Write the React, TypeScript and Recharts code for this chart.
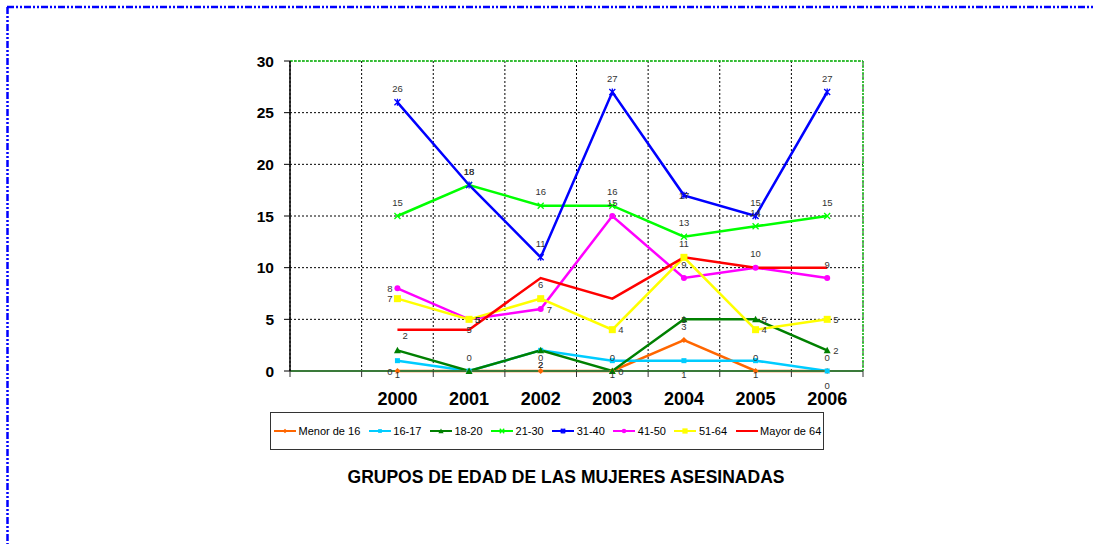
import React from "react";
import {
  CartesianGrid,
  LabelList,
  Line,
  LineChart,
  ReferenceLine,
  XAxis,
  YAxis,
} from "recharts";

// yearly counts per age group
const years = ["2000", "2001", "2002", "2003", "2004", "2005", "2006"];
const menorDe16 = [0, 0, 0, 0, 3, 0, 0];
const edad16a17 = [1, 0, 2, 1, 1, 1, 0];
const edad18a20 = [2, 0, 2, 0, 5, 5, 2];
const edad21a30 = [15, 18, 16, 16, 13, 14, 15];
const edad31a40 = [26, 18, 11, 27, 17, 15, 27];
const edad41a50 = [8, 5, 6, 15, 9, 10, 9];
const edad51a64 = [7, 5, 7, 4, 11, 4, 5];
const mayorDe64 = [4, 4, 9, 7, 11, 10, 10];
const yTicks = [0, 5, 10, 15, 20, 25, 30];
const xBounds = [0, 1, 2, 3, 4, 5, 6, 7, 8];

// data labels as printed in the original sheet (a few don't match the points)
const lblMenor = ["0", "0", "0", "0", "3", "0", "0"];
const lbl16a17 = ["1", null, "2", "1", "1", "1", "0"];
const lbl18a20 = [null, null, "2", "0", "5", "5", "2"];
const lbl21a30 = ["15", "18", "16", "16", "13", "14", "15"];
const lbl31a40 = ["26", "18", "11", "27", "17", "15", "27"];
const lbl41a50 = ["8", "5", "7", "15", "9", "10", "9"];
const lbl51a64 = ["7", "5", "6", "4", null, "4", "5"];
const lblMayor = ["2", "5", null, null, "11", null, null];

const FONT = "'Liberation Sans', Arial, sans-serif";
const PLOT_LEFT = 290;
const PLOT_RIGHT = 863;
const PLOT_TOP = 61;
const PLOT_BOTTOM = 371;
const HALF_BAND = (PLOT_RIGHT - PLOT_LEFT) / 8 / 2;

type Place = "t" | "b" | "l" | "r" | "c" | "br";
type MarkerKind = "diamond" | "smallSquare" | "triangle" | "x" | "star" | "circle" | "square" | "none";

type Series = {
  key: string;
  name: string;
  color: string;
  marker: MarkerKind;
  values: number[];
  labels: (string | null)[];
  place: Place[];
};

const series: Series[] = [
  { key: "menor", name: "Menor de 16", color: "#FF6600", marker: "diamond", values: menorDe16, labels: lblMenor, place: ["l", "t", "t", "t", "t", "t", "t"] },
  { key: "e1617", name: "16-17", color: "#00CCFF", marker: "smallSquare", values: edad16a17, labels: lbl16a17, place: ["b", "b", "b", "b", "b", "b", "b"] },
  { key: "e1820", name: "18-20", color: "#008000", marker: "triangle", values: edad18a20, labels: lbl18a20, place: ["r", "r", "b", "r", "c", "r", "r"] },
  { key: "e2130", name: "21-30", color: "#00FF00", marker: "x", values: edad21a30, labels: lbl21a30, place: ["t", "t", "t", "t", "t", "t", "t"] },
  { key: "e3140", name: "31-40", color: "#0000FF", marker: "star", values: edad31a40, labels: lbl31a40, place: ["t", "t", "t", "t", "c", "t", "t"] },
  { key: "e4150", name: "41-50", color: "#FF00FF", marker: "circle", values: edad41a50, labels: lbl41a50, place: ["l", "r", "r", "t", "t", "t", "t"] },
  { key: "e5164", name: "51-64", color: "#FFFF00", marker: "square", values: edad51a64, labels: lbl51a64, place: ["l", "r", "t", "r", "t", "r", "r"] },
  { key: "mayor", name: "Mayor de 64", color: "#FF0000", marker: "none", values: mayorDe64, labels: lblMayor, place: ["br", "c", "t", "t", "t", "t", "t"] },
];

// each year sits in the middle of its slot; slot 0 is left empty
const rows = years.map((year, i) => {
  const row: Record<string, number | string> = { x: i + 1.5, year };
  series.forEach((s) => {
    row[s.key] = s.values[i];
  });
  return row;
});

function Marker({ kind, cx, cy, color, scale = 1 }: { kind: MarkerKind; cx: number; cy: number; color: string; scale?: number }) {
  const k = scale;
  switch (kind) {
    case "diamond":
      return <path d={`M${cx - 3 * k},${cy}L${cx},${cy - 3 * k}L${cx + 3 * k},${cy}L${cx},${cy + 3 * k}Z`} fill={color} />;
    case "smallSquare":
      return <rect x={cx - 2.5 * k} y={cy - 2.5 * k} width={5 * k} height={5 * k} fill={color} />;
    case "square":
      return <rect x={cx - 3.5 * k} y={cy - 3.5 * k} width={7 * k} height={7 * k} fill={color} />;
    case "triangle":
      return <path d={`M${cx},${cy - 3.5 * k}L${cx + 3.5 * k},${cy + 3 * k}L${cx - 3.5 * k},${cy + 3 * k}Z`} fill={color} />;
    case "circle":
      return <circle cx={cx} cy={cy} r={3 * k} fill={color} />;
    case "x":
      return (
        <path d={`M${cx - 3 * k},${cy - 3 * k}L${cx + 3 * k},${cy + 3 * k}M${cx - 3 * k},${cy + 3 * k}L${cx + 3 * k},${cy - 3 * k}`} stroke={color} strokeWidth={1.3} />
      );
    case "star":
      return (
        <path
          d={`M${cx - 3 * k},${cy - 3 * k}L${cx + 3 * k},${cy + 3 * k}M${cx - 3 * k},${cy + 3 * k}L${cx + 3 * k},${cy - 3 * k}M${cx},${cy - 3.5 * k}L${cx},${cy + 3.5 * k}`}
          stroke={color}
          strokeWidth={1.3}
        />
      );
    default:
      return <g />;
  }
}

const makeLabel = (s: Series) => (props: any) => {
  const { x, y, index } = props;
  const text = s.labels[index];
  if (text == null || x == null || y == null) return null;
  let dx = 0;
  let dy = 0;
  let anchor: "start" | "middle" | "end" = "middle";
  switch (s.place[index]) {
    case "t":
      dy = -14;
      break;
    case "b":
      dy = 14;
      break;
    case "l":
      dx = -5;
      anchor = "end";
      break;
    case "r":
      dx = 6;
      anchor = "start";
      break;
    case "br":
      dx = 5;
      dy = 6;
      anchor = "start";
      break;
    default:
      break;
  }
  return (
    <text x={x + dx} y={y + dy} textAnchor={anchor} dominantBaseline="central" fontSize={9.5} fill="#333" fontFamily={FONT}>
      {text}
    </text>
  );
};

function YearTick(props: any) {
  const { x, y, payload } = props;
  const label = years[payload.value - 1];
  if (!label) return null;
  return (
    <text x={x + HALF_BAND} y={y} dy="0.71em" textAnchor="middle" fontSize={18} fontWeight="bold" fill="#000" fontFamily={FONT}>
      {label}
    </text>
  );
}

function LegendBox() {
  return (
    <div
      style={{
        position: "absolute",
        left: 270,
        top: 412,
        width: 549,
        height: 36,
        border: "1px solid #333",
        background: "#fff",
        display: "flex",
        alignItems: "center",
        paddingLeft: 3,
        fontFamily: FONT,
        fontSize: 11,
        color: "#000",
        whiteSpace: "nowrap",
      }}
    >
      {series.map((s) => (
        <div key={s.key} style={{ display: "flex", alignItems: "center", marginRight: 8.5 }}>
          <svg width={22} height={10} style={{ marginRight: 2.5 }}>
            <line x1={0} y1={5} x2={22} y2={5} stroke={s.color} strokeWidth={2} />
            <Marker kind={s.marker} cx={11} cy={5} color={s.color} scale={0.75} />
          </svg>
          <span>{s.name}</span>
        </div>
      ))}
    </div>
  );
}

export default function App() {
  return (
    <div style={{ position: "absolute", left: 0, top: 0, width: 1094, height: 544, background: "#fff", fontFamily: FONT }}>
      <LineChart
        width={1094}
        height={544}
        data={rows}
        margin={{ top: PLOT_TOP, right: 1094 - PLOT_RIGHT, left: PLOT_LEFT - 50, bottom: 544 - PLOT_BOTTOM - 40 }}
      >
        <CartesianGrid stroke="#000" strokeDasharray="2 2" strokeWidth={1} />
        <XAxis
          dataKey="x"
          type="number"
          domain={[0, 8]}
          ticks={xBounds}
          interval={0}
          height={40}
          tickSize={6}
          tickMargin={15}
          tick={<YearTick />}
          axisLine={{ stroke: "#3A7A3A", strokeWidth: 2 }}
          tickLine={{ stroke: "#333" }}
        />
        <YAxis
          type="number"
          domain={[0, 30]}
          ticks={yTicks}
          interval={0}
          width={50}
          tickSize={6}
          tickMargin={10}
          tick={{ fontSize: 15.5, fontWeight: "bold", fill: "#000", fontFamily: FONT }}
          axisLine={{ stroke: "#000", strokeWidth: 1.5 }}
          tickLine={{ stroke: "#000" }}
        />
        <ReferenceLine y={30} stroke="#22CC22" strokeWidth={1.5} strokeDasharray="3 1" />
        <ReferenceLine x={8} stroke="#22CC22" strokeWidth={1.5} strokeDasharray="2 1" />
        {series.map((s) => (
          <Line
            key={s.key}
            dataKey={s.key}
            name={s.name}
            type="linear"
            stroke={s.color}
            strokeWidth={2.5}
            isAnimationActive={false}
            dot={(p: any) => <Marker key={`${s.key}-${p.index}`} kind={s.marker} cx={p.cx} cy={p.cy} color={s.color} />}
            activeDot={false}
          >
            <LabelList dataKey={s.key} content={makeLabel(s)} />
          </Line>
        ))}
      </LineChart>
      <LegendBox />
      <div
        style={{
          position: "absolute",
          left: 266,
          top: 469,
          width: 600,
          textAlign: "center",
          fontSize: 17.5,
          lineHeight: "17px",
          fontWeight: "bold",
          color: "#000",
        }}
      >
        GRUPOS DE EDAD DE LAS MUJERES ASESINADAS
      </div>
      <svg width={1094} height={544} style={{ position: "absolute", left: 0, top: 0, pointerEvents: "none" }}>
        <line x1={7} y1={7} x2={1094} y2={7} stroke="#0000FF" strokeWidth={2.5} strokeDasharray="7 2 2 2 2 2" />
        <line x1={7.5} y1={7} x2={7.5} y2={544} stroke="#0000FF" strokeWidth={2.5} strokeDasharray="7 2 2 2 2 2" />
      </svg>
    </div>
  );
}
